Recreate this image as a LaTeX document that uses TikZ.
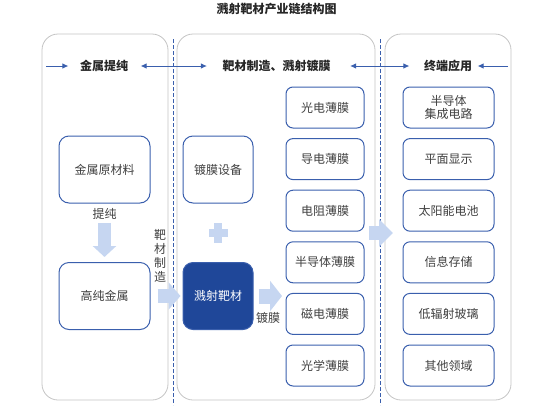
\documentclass[tikz,border=0pt]{standalone}
\usepackage{fontspec}
\newfontfamily\cjk{Noto Sans CJK SC}
\usetikzlibrary{arrows.meta,positioning}
\definecolor{edgeblue}{HTML}{3A5FAD}
\definecolor{deepblue}{HTML}{1F4799}
\definecolor{paleblue}{HTML}{C6D6F1}
\definecolor{panelgray}{HTML}{C4C4C4}
\definecolor{txtgray}{HTML}{3F3F3F}

\begin{document}
\begin{tikzpicture}[x=1pt,y=-1pt,font=\cjk\fontsize{12}{14}\selectfont,
  >={Latex[length=6pt,width=5.5pt]},
  panel/.style={draw=panelgray,line width=0.8pt,rounded corners=16pt},
  box/.style={draw=edgeblue,line width=1pt,rounded corners=10pt,text=txtgray,
    minimum width=91pt,minimum height=67pt,inner sep=0pt},
  film/.style={draw=edgeblue,line width=1pt,rounded corners=7pt,text=txtgray,
    minimum width=78pt,minimum height=41pt,inner sep=0pt,align=center},
  app/.style={film,minimum width=91pt},
  hdr/.style={font=\cjk\bfseries\fontsize{12}{14}\selectfont,text=black!85},
  thin/.style={draw=edgeblue,line width=1pt},
  fat/.style={draw=paleblue,line width=14pt,-{Triangle[length=12pt,width=27pt]}},
  note/.style={text=txtgray,inner sep=1pt}]
  \useasboundingbox (0,0) rectangle (549,405);
  \node[hdr] (title) at (276.5,9) {溅射靶材产业链结构图};
  % three panels and the dashed separators
  \draw[panel] (42,34) rectangle (168,400);
  \draw[panel] (177,34) rectangle (375,400);
  \draw[panel] (385,34) rectangle (511,400);
  \draw[edgeblue,line width=1pt,dash pattern=on 3.5pt off 2.5pt] (173,39) -- (173,405);
  \draw[edgeblue,line width=1pt,dash pattern=on 3.5pt off 2.5pt] (380,39) -- (380,405);
  % headers
  \node[hdr] (h1) at (104,66) {金属提纯};
  \node[hdr] (h2) at (276.5,66) {靶材制造、溅射镀膜};
  \node[hdr] (h3) at (448,66) {终端应用};
  \coordinate (in1) at (46,66);
  \coordinate (in3) at (508,66);
  \draw[thin,->,shorten >=8pt] (in1) -- (h1);
  \draw[thin,<->,shorten <=9pt,shorten >=12pt] (h1) -- (h2);
  \draw[thin,<->,shorten <=16pt,shorten >=11pt] (h2) -- (h3);
  \draw[thin,->,shorten >=2pt] (in3) -- (h3);
  % left and middle boxes
  \node[box] (raw) at (104.5,169.5) {金属原材料};
  \node[box] (pure) at (104.5,296) {高纯金属};
  \node[box,minimum width=70pt] (equip) at (218,169.5) {镀膜设备};
  \node[box,minimum width=70pt,fill=deepblue,text=white] (target) at (218,296) {溅射靶材};
  \node[note,below=4pt of raw] (tc) {提纯};
  \draw[fat,line width=13pt,-{Triangle[length=11pt,width=23pt]},shorten <=2pt,shorten >=5pt] (tc) -- (pure);
  \node[note,align=center] (mk) at (160,256) {靶\\材\\制\\造};
  \draw[fat,shorten <=7pt,shorten >=2pt] (pure) -- (target);
  \fill[paleblue] (208.5,229) rectangle (227.5,236.5);
  \fill[paleblue] (214.2,222.5) rectangle (221.8,243);
  \coordinate (tipA) at (282,296);
  \draw[fat,line width=15pt,-{Triangle[length=12pt,width=30pt]},shorten <=5pt] (target) -- (tipA);
  \node[note] (dm) at (268,318) {镀膜};
  % thin films
  \node[film] (f1) at (325,107.5) {光电薄膜};
  \node[film,below=9.6pt of f1] (f2) {导电薄膜};
  \node[film,below=9.6pt of f2] (f3) {电阻薄膜};
  \node[film,below=9.6pt of f3] (f4) {半导体薄膜};
  \node[film,below=9.6pt of f4] (f5) {磁电薄膜};
  \node[film,below=9.6pt of f5] (f6) {光学薄膜};
  % applications
  \node[app] (a1) at (448.5,107.5) {半导体\\[-1pt]集成电路};
  \node[app,below=9.6pt of a1] (a2) {平面显示};
  \node[app,below=9.6pt of a2] (a3) {太阳能电池};
  \node[app,below=9.6pt of a3] (a4) {信息存储};
  \node[app,below=9.6pt of a4] (a5) {低辐射玻璃};
  \node[app,below=9.6pt of a5] (a6) {其他领域};
  \coordinate (midA) at (369,233);
  \coordinate (midB) at (393,233);
  \draw[fat,-{Triangle[length=14pt,width=27pt]}] (midA) -- (midB);
\end{tikzpicture}
\end{document}
